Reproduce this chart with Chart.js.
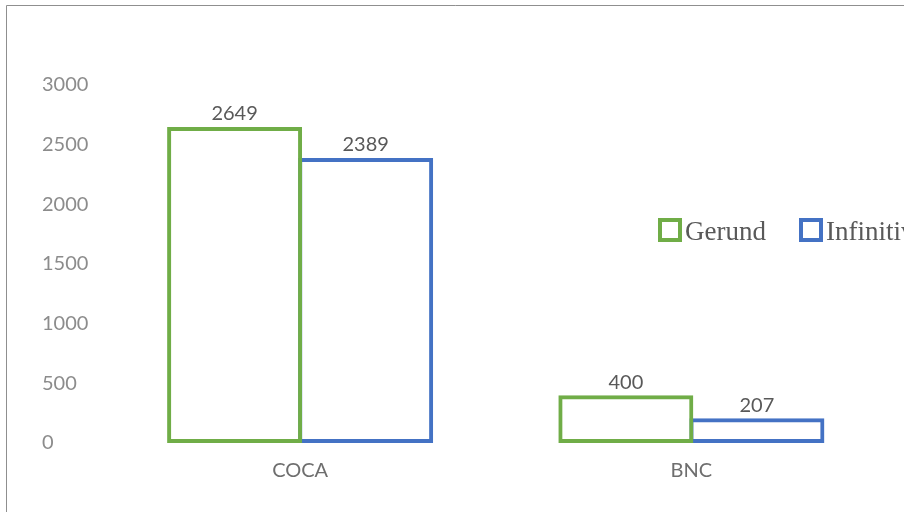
<!DOCTYPE html>
<html>
<head>
<meta charset="utf-8">
<script src="https://cdn.jsdelivr.net/npm/chart.js@4"></script>
<style>
  html, body { margin: 0; padding: 0; background: #fff; }
  #wrap { width: 904px; height: 512px; position: relative; }
</style>
</head>
<body>
<div id="wrap"><canvas id="myChart" width="904" height="512"></canvas></div>
<script>
// categories and values
var corpora = ['COCA', 'BNC'];
var gerund = [2649, 400];
var infinitive = [2389, 207];
var seriesNames = ['Gerund', 'Infinitive'];
var yTicks = [0, 500, 1000, 1500, 2000, 2500, 3000];

var green = '#70AD47';
var blue = '#4472C4';

// frame lines at top and left of the picture
var framePlugin = {
  id: 'frame',
  beforeDraw: function(chart) {
    var c = chart.ctx;
    c.save();
    c.fillStyle = '#fff';
    c.fillRect(0, 0, chart.width, chart.height);
    c.strokeStyle = '#8f8f8f';
    c.lineWidth = 1;
    c.beginPath();
    c.moveTo(6.5, chart.height);
    c.lineTo(6.5, 5.5);
    c.lineTo(chart.width, 5.5);
    c.stroke();
    c.restore();
  }
};

// value labels on top of bars
var valueLabels = {
  id: 'valueLabels',
  afterDatasetsDraw: function(chart) {
    var c = chart.ctx;
    c.save();
    c.font = '20px Lato';
    c.fillStyle = '#595959';
    c.textAlign = 'center';
    c.textBaseline = 'bottom';
    chart.data.datasets.forEach(function(ds, i) {
      chart.getDatasetMeta(i).data.forEach(function(bar, j) {
        c.fillText(ds.data[j], bar.x, bar.y - 3);
      });
    });
    c.restore();
  }
};

// legend sitting inside the plot, cut by the right edge
var legendPlugin = {
  id: 'sideLegend',
  afterDraw: function(chart) {
    var c = chart.ctx;
    var xs = [658, 799];
    c.save();
    c.font = '27px "Liberation Serif"';
    c.textBaseline = 'alphabetic';
    c.textAlign = 'left';
    chart.data.datasets.forEach(function(ds, i) {
      c.strokeStyle = ds.borderColor;
      c.lineWidth = 4;
      c.strokeRect(xs[i] + 2, 220, 20, 20);
      c.fillStyle = '#595959';
      c.fillText(ds.label, xs[i] + 27, 240);
    });
    c.restore();
  }
};

var ctx = document.getElementById('myChart').getContext('2d');
var chart = new Chart(ctx, {
  type: 'bar',
  data: {
    labels: corpora,
    datasets: [{
      label: seriesNames[0],
      data: gerund,
      backgroundColor: 'rgba(255,255,255,0)',
      borderColor: green,
      borderWidth: 4,
      borderSkipped: false
    }, {
      label: seriesNames[1],
      data: infinitive,
      backgroundColor: 'rgba(255,255,255,0)',
      borderColor: blue,
      borderWidth: 4,
      borderSkipped: false
    }]
  },
  options: {
    responsive: false,
    animation: false,
    layout: { padding: { left: 42, top: 85, right: 17, bottom: 13 } },
    categoryPercentage: 0.67,
    barPercentage: 1.03,
    plugins: {
      legend: { display: false },
      tooltip: { enabled: false }
    },
    scales: {
      x: {
        grid: { display: false, drawTicks: false },
        border: { display: false },
        ticks: { color: '#6e6e6e', font: { family: 'Lato', size: 20 }, padding: 16 }
      },
      y: {
        min: 0,
        max: 3000,
        afterBuildTicks: function(axis) {
          axis.ticks = yTicks.map(function(v) { return { value: v }; });
        },
        afterFit: function(axis) { axis.width = 62.5; },
        grid: { display: false, drawTicks: false },
        border: { display: false },
        ticks: {
          color: '#8c8c8c',
          crossAlign: 'far',
          padding: 0,
          font: { family: 'Lato', size: 20 },
          callback: function(v) { return String(v); }
        }
      }
    }
  },
  plugins: [framePlugin, valueLabels, legendPlugin]
});
</script>
</body>
</html>
